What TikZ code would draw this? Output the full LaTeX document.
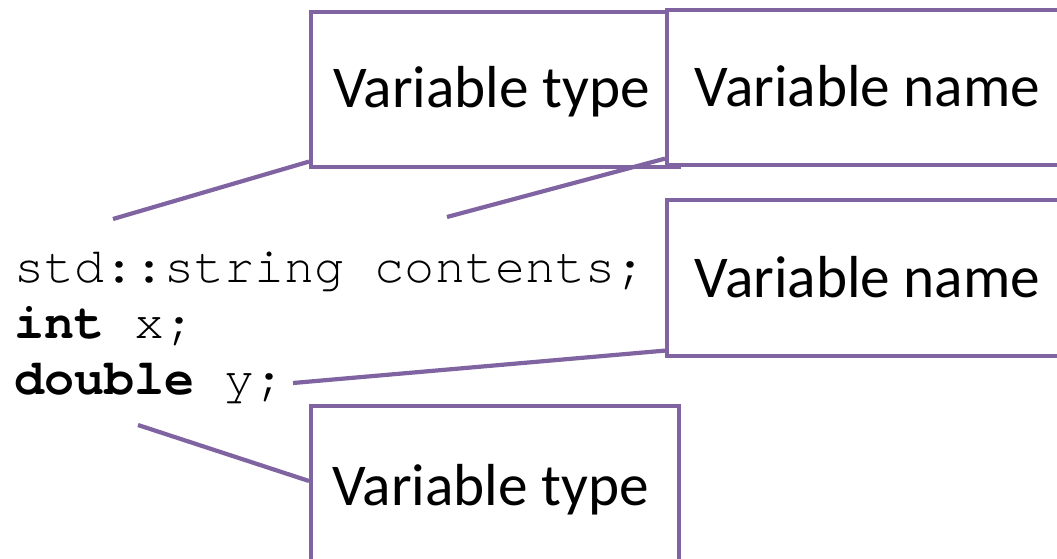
\documentclass[tikz,border=0pt]{standalone}
\usepackage{fontspec}
\setmainfont{Carlito}
\newfontfamily\codefont{TeX Gyre Cursor}
\usetikzlibrary{calc}
\definecolor{callout}{HTML}{8064A2}
\tikzset{
  x=1pt, y=-1pt,
  box/.style={draw=callout, line width=3.6pt, fill=white, rectangle,
              anchor=north west, inner sep=0pt},
  lbl/.style={inner sep=0pt, anchor=base, font=\fontsize{59.3}{70}\selectfont},
  code/.style={inner sep=0pt, anchor=base west, font=\fontsize{50.1}{56}\codefont},
  leader/.style={draw=callout, line width=4.2pt}
}
\begin{document}
\begin{tikzpicture}
\useasboundingbox (0,0) rectangle (1057,559);

% code lines
\node[code] (l1) at (14,282) {std::string contents;};
\node[code] (l2) at (14,338) {\textbf{int} x;};
\node[code] (l3) at (14,394) {\textbf{double} y;};

% callout boxes
\node[box, minimum width=368pt, minimum height=155pt] (b1) at (309,10) {};
\node[box, minimum width=410pt, minimum height=155pt] (b2) at (665,8) {};
\node[box, minimum width=410pt, minimum height=156pt] (b3) at (665,198) {};
\node[box, minimum width=368pt, minimum height=170pt] (b4) at (309,404) {};

\node[lbl] (t1) at (491.5,108) {Variable type};
\node[lbl] (t2) at (867.5,107) {Variable name};
\node[lbl] (t3) at (867.5,297) {Variable name};
\node[lbl] (t4) at (490.5,505) {Variable type};

% free ends of the leaders, next to the code
\coordinate (p1) at (113,219);
\coordinate (p2) at (447,217);
\coordinate (p3) at (293,383);
\coordinate (p4) at (138,425);

\draw[leader] (p1) -- ($(b1.south west)+(0,-7)$);
\draw[leader] (p2) -- ($(b2.south west)+(0,-8)$);
\draw[leader] (p3) -- ($(b3.south west)+(0,-7)$);
\draw[leader] (p4) -- ($(b4.north west)+(0,77)$);
\end{tikzpicture}
\end{document}
